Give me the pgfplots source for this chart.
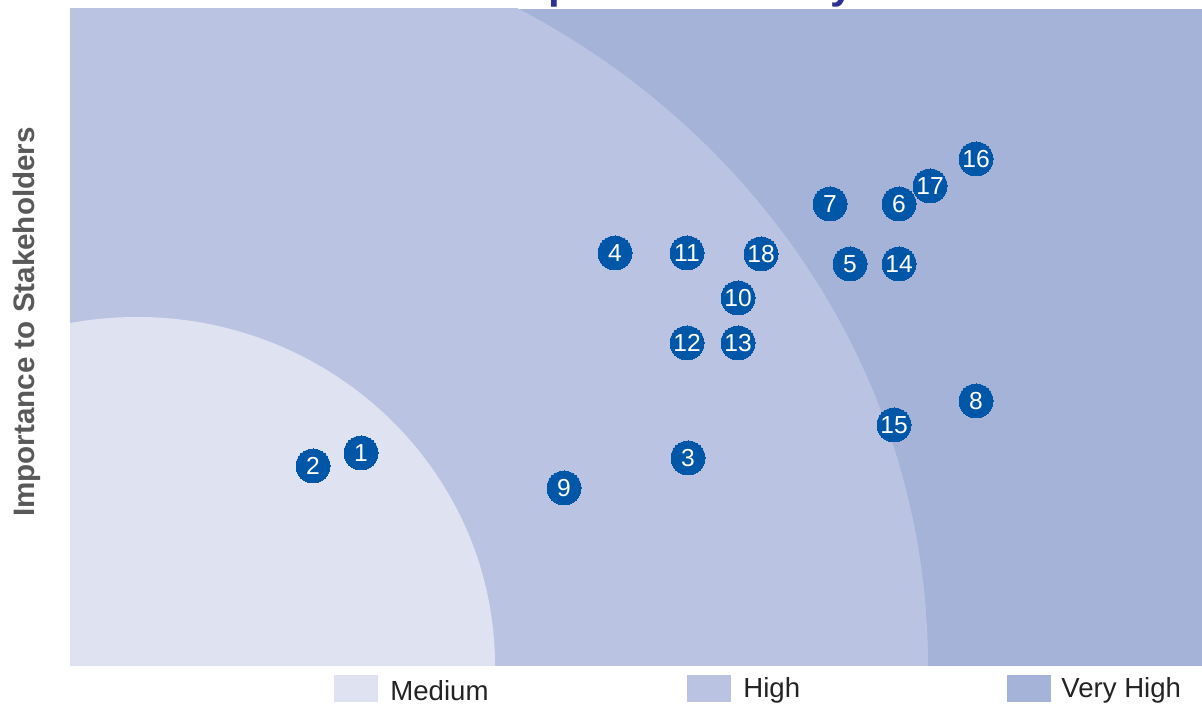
\documentclass[border=0pt]{standalone}
\usepackage{pgfplots}
\pgfplotsset{compat=1.18}
\usepackage{fontspec}
\setmainfont{Liberation Sans}
\definecolor{medium}{RGB}{223,226,240}
\definecolor{high}{RGB}{186,196,226}
\definecolor{veryhigh}{RGB}{164,179,215}
\definecolor{dot}{RGB}{0,87,168}
\definecolor{titleblue}{RGB}{46,49,146}
\definecolor{ylab}{RGB}{89,89,89}
\definecolor{legtext}{RGB}{35,35,35}
\pgfplotstableread{
x y label
291 213 1
243 200 2
618 208 3
545 413 4
780 402 5
829 462 6
760 462 7
906 265 8
494 178 9
668 368 10
617 413 11
617 323 12
668 323 13
829 402 14
824 241 15
906 507 16
860 480 17
691 412 18
}\topics
\begin{document}
\begin{tikzpicture}
\begin{axis}[
  at={(0,0)}, anchor=south west,
  scale only axis, width=566bp, height=328.5bp,
  xmin=0, xmax=1132, ymin=0, ymax=657,
  axis line style={draw=none}, ticks=none,
  clip=true,
]
\begin{scope}
\clip (rel axis cs:0,0) rectangle (rel axis cs:1,1);
\fill[veryhigh] (rel axis cs:0,0) rectangle (rel axis cs:1,1);
\fill[high] (axis cs:67,0) ellipse [x radius=395.5bp, y radius=375bp];
\fill[medium] (axis cs:67,0) ellipse [x radius=179bp, y radius=174.5bp];
\end{scope}
\addplot[color=dot, only marks, mark=*, mark size=8.5bp, mark options={fill=dot, draw=dot, line width=0pt},
  point meta=explicit symbolic, nodes near coords, nodes near coords align={center},
  every node near coord/.append style={anchor=center, text=white, inner sep=0pt,
    font=\fontsize{12.3bp}{14bp}\selectfont}]
  table[x=x, y=y, meta=label] {\topics};
\end{axis}
% y label
\node[rotate=90, font=\bfseries\fontsize{14.8bp}{17bp}\selectfont, text=ylab] at (-21.5bp,172bp) {Importance to Stakeholders};
% title (cut off at top like the reference)
\node[anchor=base west, inner sep=0pt, font=\bfseries\fontsize{21bp}{25bp}\selectfont, text=titleblue] at (214.5bp,333.5bp) {Impact Materiality};
% legend
\fill[medium] (132bp,-4.5bp) rectangle (154bp,-18bp);
\node[anchor=west, inner sep=0pt, text=legtext, font=\fontsize{13.8bp}{16bp}\selectfont] at (160bp,-12.3bp) {Medium};
\fill[high] (308.5bp,-4.5bp) rectangle (330.5bp,-18bp);
\node[anchor=west, inner sep=0pt, text=legtext, font=\fontsize{13.8bp}{16bp}\selectfont] at (336.5bp,-12.3bp) {High};
\fill[veryhigh] (468.5bp,-4.5bp) rectangle (490.5bp,-18bp);
\node[anchor=west, inner sep=0pt, text=legtext, font=\fontsize{13.8bp}{16bp}\selectfont] at (495.5bp,-12.3bp) {Very High};
\pgfresetboundingbox
\useasboundingbox (-35bp,-20.5bp) rectangle (566bp,333bp);
\end{tikzpicture}
\end{document}
